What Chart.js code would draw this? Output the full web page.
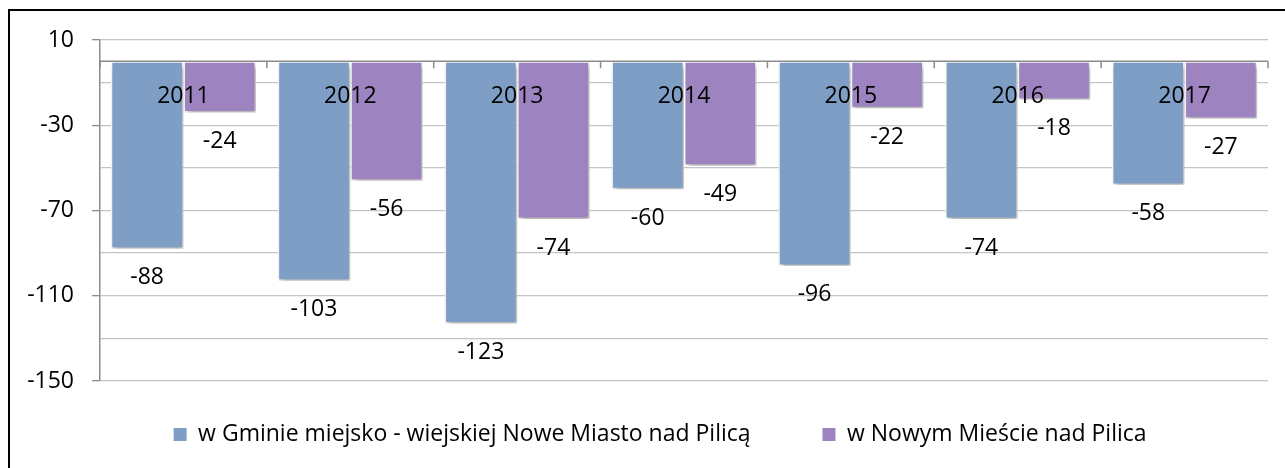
<!DOCTYPE html>
<html>
<head>
<meta charset="utf-8">
<script src="https://cdn.jsdelivr.net/npm/chart.js@4.4.1/dist/chart.umd.min.js"></script>
<style>
  html, body { margin: 0; padding: 0; background: #fff; }
  body { width: 1285px; height: 468px; overflow: hidden; position: relative; }
  .frame { position: absolute; left: 8px; top: 9px; width: 1400px; height: 600px;
           border-left: 2px solid #000; border-top: 2px solid #000; }
  #wrap { position: absolute; left: 0; top: 0; width: 1285px; height: 468px; }
</style>
</head>
<body>
<div class="frame"></div>
<div id="wrap"><canvas id="chart"></canvas></div>
<script>
const years = ['2011', '2012', '2013', '2014', '2015', '2016', '2017'];
const gminaValues = [-88, -103, -123, -60, -96, -74, -58];
const miastoValues = [-24, -56, -74, -49, -22, -18, -27];
const seriesNames = ['w Gminie miejsko - wiejskiej Nowe Miasto nad Pilicą', 'w Nowym Mieście nad Pilica'];
const yMin = -150;
const yMax = 10;
const yStep = 20;
const labelledTicks = [10, -30, -70, -110, -150];

const FONT = "'Open Sans', 'DejaVu Sans', sans-serif";
const FONT_SIZE = 23;

// shadow under the bars, then zero line, category ticks and value labels on top
const decorations = {
    id: 'decorations',
    beforeDatasetsDraw(chart) {
        const ctx = chart.ctx;
        ctx.save();
        ctx.shadowColor = 'rgba(0, 0, 0, 0.35)';
        ctx.shadowBlur = 5;
        ctx.shadowOffsetX = 2;
        ctx.shadowOffsetY = 3;
    },
    afterDatasetsDraw(chart) {
        const ctx = chart.ctx;
        ctx.restore();
        const x = chart.scales.x;
        const y = chart.scales.y;
        const area = chart.chartArea;
        const y0 = y.getPixelForValue(0);

        ctx.save();
        ctx.strokeStyle = '#8c8c8c';
        ctx.lineWidth = 1.5;
        ctx.beginPath();
        ctx.moveTo(area.left, y0);
        ctx.lineTo(area.right, y0);
        // little ticks between the year groups
        for (let i = 0; i <= years.length; i++) {
            const px = i === years.length ? area.right
                : (i === 0 ? area.left : (x.getPixelForValue(i - 1) + x.getPixelForValue(i)) / 2);
            ctx.moveTo(px, y0);
            ctx.lineTo(px, y0 + 7);
        }
        ctx.stroke();

        ctx.fillStyle = '#000';
        ctx.font = FONT_SIZE + 'px ' + FONT;
        ctx.textAlign = 'center';
        ctx.textBaseline = 'middle';
        years.forEach((yr, i) => {
            ctx.fillText(yr, x.getPixelForValue(i), y0 + 35);
        });

        chart.data.datasets.forEach((ds, di) => {
            chart.getDatasetMeta(di).data.forEach((bar, i) => {
                ctx.fillText(String(ds.data[i]), bar.x, bar.y + 29);
            });
        });
        ctx.restore();
    }
};

new Chart(document.getElementById('chart'), {
    type: 'bar',
    data: {
        labels: years,
        datasets: [
            {
                label: seriesNames[0],
                data: gminaValues,
                backgroundColor: '#7e9ec5',
                borderColor: '#ffffff',
                borderWidth: 1.5,
                borderSkipped: false
            },
            {
                label: seriesNames[1],
                data: miastoValues,
                backgroundColor: '#9d84c0',
                borderColor: '#ffffff',
                borderWidth: 1.5,
                borderSkipped: false
            }
        ]
    },
    options: {
        responsive: true,
        maintainAspectRatio: false,
        animation: false,
        categoryPercentage: 0.87,
        barPercentage: 1,
        layout: {
            padding: { left: 20, right: 17, top: 40, bottom: 12 }
        },
        plugins: {
            tooltip: { enabled: false },
            legend: {
                position: 'bottom',
                fullSize: false,
                labels: {
                    color: '#000',
                    font: { family: FONT, size: FONT_SIZE },
                    boxWidth: 13,
                    boxHeight: 13,
                    padding: 42,
                    generateLabels: (chart) => {
                        const items = Chart.defaults.plugins.legend.labels.generateLabels(chart);
                        items.forEach(item => { item.lineWidth = 0; });
                        items[0].text += '\u00a0\u00a0\u00a0\u00a0\u00a0';
                        items[1].text += '\u00a0'.repeat(8);
                        return items;
                    }
                }
            }
        },
        scales: {
            x: {
                display: false,
                offset: true
            },
            y: {
                min: yMin,
                max: yMax,
                afterFit: scale => { scale.width = 80; },
                ticks: {
                    stepSize: yStep,
                    color: '#000',
                    font: { family: FONT, size: FONT_SIZE },
                    padding: 18,
                    callback: value => labelledTicks.includes(value) ? value : ''
                },
                grid: {
                    color: '#c4c4c4',
                    lineWidth: 1.3,
                    tickLength: 8,
                    tickColor: ctx => labelledTicks.includes(ctx.tick && ctx.tick.value) ? '#8c8c8c' : 'rgba(0,0,0,0)'
                },
                border: { color: '#8c8c8c', width: 1.5 }
            }
        }
    },
    plugins: [decorations]
});
</script>
</body>
</html>
